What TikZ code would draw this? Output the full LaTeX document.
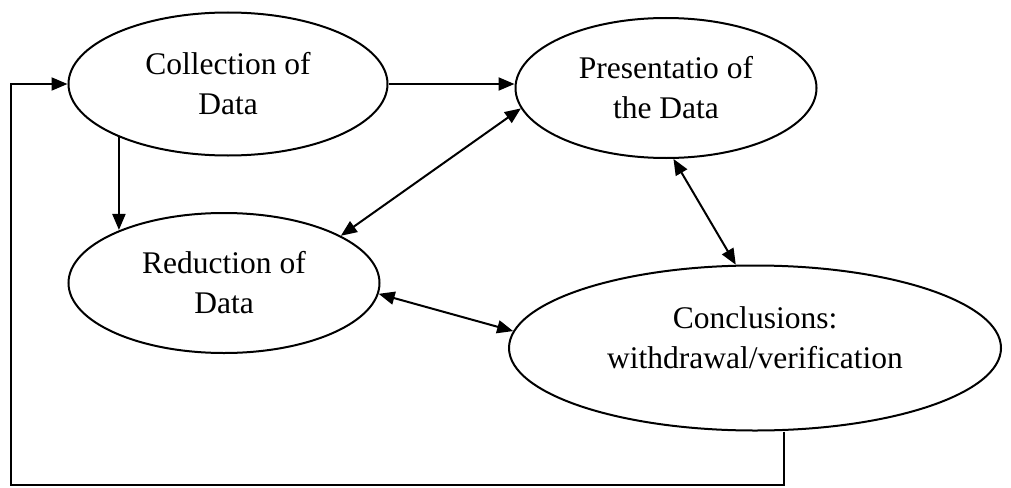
\documentclass[tikz,border=0pt]{standalone}
\usepackage{fontspec}
\setmainfont{Liberation Serif}
\usetikzlibrary{shapes.geometric,arrows.meta}
\begin{document}
\begin{tikzpicture}[x=1pt,y=-1pt,
  ell/.style={ellipse,draw,line width=2pt,inner sep=0pt,align=center,
    font=\fontsize{31.5}{40}\selectfont},
  txt/.style={align=center,inner sep=0pt,font=\fontsize{31.5}{40}\selectfont},
  arr/.style={line width=2pt,-{Triangle[length=16pt,width=13pt]}},
  darr/.style={line width=2pt,{Triangle[length=16pt,width=13pt]}-{Triangle[length=16pt,width=13pt]}}]
\useasboundingbox (0,0) rectangle (1011,487);
\node[ell,minimum width=319pt,minimum height=143pt] (c1) at (228,84) {Collection of\\Data};
\node[ell,minimum width=301pt,minimum height=140pt] (c2) at (666,88) {Presentatio of\\the Data};
\node[ell,minimum width=311pt,minimum height=140pt] (c3) at (224,283) {Reduction of\\Data};
\node[ell,minimum width=492pt,minimum height=165pt] (c4) at (755,348) {};
\node[txt] (t4) at ([yshift=10pt]c4.center) {Conclusions:\\withdrawal/verification};
\coordinate (fb) at (11,485);
\draw[arr] (c1.east) -- (c1.east -| c2.west);
\draw[arr] (c1.206) -- (c1.206 |- c3.153);
\draw[darr] (c2.188) -- (c3.22);
\draw[darr] (c2.-84) -- (c4.103.5);
\draw[darr] (c3.-4.4) -- (c4.176);
\draw[arr] ([xshift=29pt]c4.south) |- (fb) |- (c1.west);
\end{tikzpicture}
\end{document}
